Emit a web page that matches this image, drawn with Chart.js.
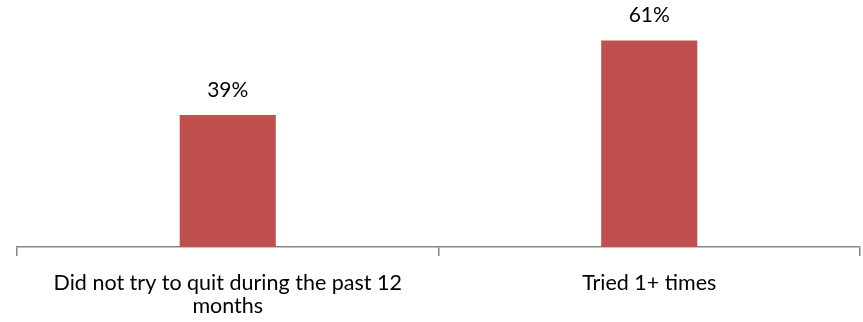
<!DOCTYPE html>
<html>
<head>
<meta charset="utf-8">
<script src="https://cdn.jsdelivr.net/npm/chart.js@4/dist/chart.umd.min.js"></script>
<style>
  html, body { margin: 0; padding: 0; background: #fff; }
  #wrap { width: 863px; height: 322px; }
</style>
</head>
<body>
<div id="wrap"><canvas id="chart"></canvas></div>
<script>
// chart data
const categories = [['Did not try to quit during the past 12', 'months'], 'Tried 1+ times'];
const values = [39, 61];
const barColor = '#C0504D';

// labels above bars
const valueLabels = {
  id: 'valueLabels',
  afterDatasetsDraw(chart) {
    const ctx = chart.ctx;
    const meta = chart.getDatasetMeta(0);
    ctx.save();
    ctx.fillStyle = '#000';
    ctx.font = '21px Lato, "Open Sans", sans-serif';
    ctx.textAlign = 'center';
    ctx.textBaseline = 'middle';
    meta.data.forEach((bar, i) => {
      ctx.fillText(values[i] + '%', bar.x, bar.y - 25);
    });
    ctx.restore();
  }
};

new Chart(document.getElementById('chart'), {
  type: 'bar',
  data: {
    labels: categories,
    datasets: [{
      data: values,
      backgroundColor: barColor,
      categoryPercentage: 1,
      barPercentage: 0.228
    }]
  },
  options: {
    responsive: true,
    maintainAspectRatio: false,
    animation: false,
    layout: { padding: { left: 17, right: 3, top: 10, bottom: 0 } },
    plugins: { legend: { display: false }, tooltip: { enabled: false } },
    scales: {
      x: {
        border: { color: '#868686', width: 1.5 },
        grid: { drawOnChartArea: false, drawTicks: true, tickLength: 9, color: '#868686', lineWidth: 1.5 },
        ticks: {
          color: '#000',
          font: { family: 'Lato, "Open Sans", sans-serif', size: 21.5, lineHeight: 1.08 },
          padding: 15,
          maxRotation: 0
        },
        afterFit(scale) { scale.height = 75; }
      },
      y: {
        display: false,
        min: 0,
        max: 70
      }
    }
  },
  plugins: [valueLabels]
});
</script>
</body>
</html>
